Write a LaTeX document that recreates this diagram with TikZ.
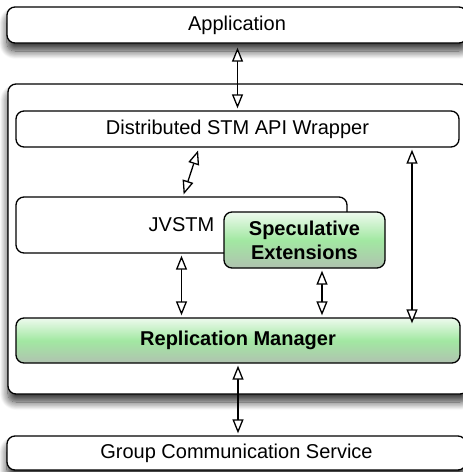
\documentclass[tikz,border=0pt]{standalone}
\usepackage{fontspec}
\setmainfont{Liberation Sans}
\usetikzlibrary{arrows.meta,shadows.blur}

\definecolor{gtop}{RGB}{238,250,238}
\definecolor{gmid}{RGB}{162,232,162}
\definecolor{gbot}{RGB}{176,194,176}

\begin{document}
\begin{tikzpicture}[x=1pt,y=-1pt,
  box/.style={draw, line width=1.3pt, rounded corners=8pt, fill=white,
    inner sep=0pt, align=center, font=\fontsize{20}{24}\selectfont},
  shadowed/.style={blur shadow={shadow xshift=0pt, shadow yshift=-8pt,
    shadow blur radius=8pt, shadow blur steps=14, shadow opacity=80}},
  greenbox/.style={box, top color=gtop, bottom color=gbot, middle color=gmid,
    font=\fontsize{20}{24}\selectfont\bfseries},
  tip/.tip={Triangle[fill=white, length=14pt, width=11pt]},
  link/.style={line width=1.3pt, tip-tip, shorten <=2pt, shorten >=2pt}
]
\useasboundingbox (0,0) rectangle (463,472);
\clip (0,0) rectangle (463,472);

% layers
\node[box, shadowed, minimum width=460pt, minimum height=36pt] (app) at (237,25) {Application};
\node[box, shadowed, minimum width=460pt, minimum height=310pt] (outer) at (238,239) {};
\node[box, minimum width=443pt, minimum height=36pt] (wrapper) at (237.5,129) {Distributed STM API Wrapper};
\node[box, minimum width=331pt, minimum height=56pt] (jvstm) at (181.5,225) {JVSTM};
\node[greenbox, minimum width=161pt, minimum height=56pt] (spec) at (304.5,240) {Speculative\\Extensions};
\node[greenbox, minimum width=444pt, minimum height=45pt] (rm) at (238,340.5) {Replication Manager};
\node[box, shadowed, minimum width=459pt, minimum height=34pt] (gcs) at (236.5,453) {Group Communication Service};

% connectors
\draw[link, shorten <=4pt] ([xshift=0.5pt]app.south) -- (wrapper.north);
\draw[link, shorten <=3pt] ([xshift=-38.5pt]wrapper.south) -- ([xshift=1.5pt]jvstm.north);
\draw[link] (jvstm.south) -- (jvstm.south |- rm.north);
\draw[link] ([xshift=17.5pt]spec.south) -- ([xshift=17.5pt]spec.south |- rm.north);
\draw[link, shorten >=-6pt] ([xshift=174.5pt]wrapper.south) -- ([xshift=174.5pt]wrapper.south |- rm.north);
\draw[link] (rm.south) -- (rm.south |- gcs.north);
\end{tikzpicture}
\end{document}
